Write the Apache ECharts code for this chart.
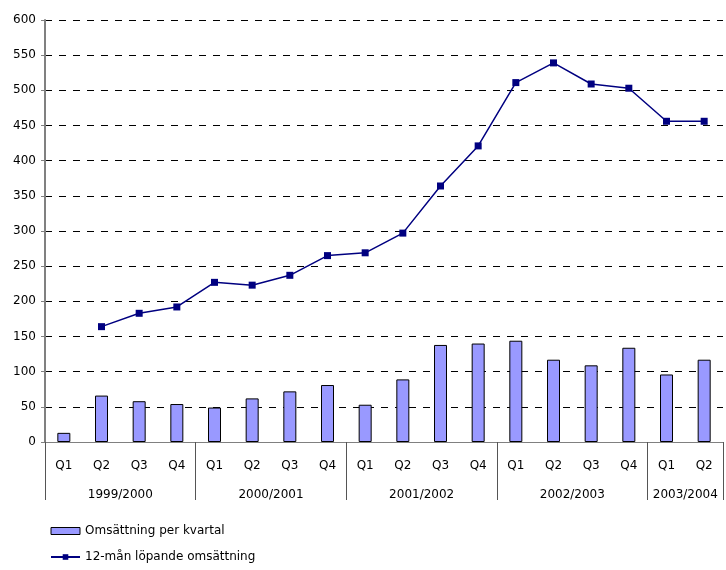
<!DOCTYPE html>
<html>
<head>
<meta charset="utf-8">
<script src="https://cdn.jsdelivr.net/npm/echarts@6/dist/echarts.min.js"></script>
<style>
  html, body { margin: 0; padding: 0; background: #ffffff; }
  #main { width: 726px; height: 570px; }
</style>
</head>
<body>
<div id="main"></div>
<script>
// kvartal och räkenskapsår
var quarters = ['Q1', 'Q2', 'Q3', 'Q4', 'Q1', 'Q2', 'Q3', 'Q4', 'Q1', 'Q2', 'Q3', 'Q4', 'Q1', 'Q2', 'Q3', 'Q4', 'Q1', 'Q2']
var years = ['1999/2000', '2000/2001', '2001/2002', '2002/2003', '2003/2004']
var yearSizes = [4, 4, 4, 4, 2]
// omsättning per kvartal
var perQuarter = [13, 66, 58, 54, 49, 62, 72, 81, 53, 89, 138, 140, 144, 117, 109, 134, 96, 117]
// 12-mån löpande omsättning
var rolling12 = [null, 164, 183, 192, 227, 223, 237, 265, 269, 297, 364, 421, 511, 539, 509, 503, 456, 456]
var yTicks = [0, 50, 100, 150, 200, 250, 300, 350, 400, 450, 500, 550, 600]

// gruppgränser och mitten för årsetiketter
var groupStarts = {}
var yearAt = {}
var pos = 0
for (var i = 0; i < years.length; i++) {
  groupStarts[pos] = true
  yearAt[pos + yearSizes[i] / 2] = years[i]
  pos += yearSizes[i]
}

var font = 'DejaVu Sans, Liberation Sans, sans-serif'
var chart = echarts.init(document.getElementById('main'))
chart.setOption({
  animation: false,
  grid: { left: 45, top: 20, width: 682, height: 422 },
  legend: {
    orient: 'vertical',
    left: 50,
    top: 525,
    padding: 0,
    itemWidth: 29,
    itemHeight: 7,
    itemGap: 14,
    textStyle: { fontFamily: font, fontSize: 12, color: '#000' },
    data: [
      { name: 'Omsättning per kvartal', icon: 'rect', itemStyle: { borderWidth: 1, borderColor: '#000' } },
      { name: '12-mån löpande omsättning' }
    ]
  },
  xAxis: [
    {
      type: 'category',
      data: quarters,
      boundaryGap: true,
      axisLine: { lineStyle: { color: '#808080', width: 1 } },
      axisTick: {
        show: true,
        length: 58,
        interval: function(index) { return !!groupStarts[index] },
        lineStyle: { color: '#555', width: 1 }
      },
      axisLabel: { interval: 0, margin: 18, fontFamily: font, fontSize: 12, color: '#000' },
      splitLine: { show: false }
    },
    {
      type: 'value',
      min: 0,
      max: 18,
      interval: 1,
      position: 'bottom',
      axisLine: { show: false },
      axisTick: { show: false },
      splitLine: { show: false },
      axisLabel: {
        margin: 47,
        fontFamily: font,
        fontSize: 12,
        color: '#000',
        showMinLabel: true,
        showMaxLabel: true,
        formatter: function(v) { return yearAt[v] || '' }
      }
    }
  ],
  yAxis: {
    type: 'value',
    min: 0,
    max: 600,
    interval: 50,
    axisLine: { show: true, lineStyle: { color: '#808080', width: 2 } },
    axisTick: { show: true, length: 4, lineStyle: { color: '#808080' } },
    axisLabel: {
      margin: 9,
      fontFamily: font,
      fontSize: 12,
      color: '#000',
      formatter: function(v) { return yTicks.indexOf(v) >= 0 ? String(v) : '' }
    },
    splitLine: { show: true, lineStyle: { color: '#000', type: [7, 7], width: 1 } }
  },
  series: [
    {
      name: 'Omsättning per kvartal',
      type: 'bar',
      data: perQuarter,
      barWidth: 13,
      itemStyle: { color: '#9999ff', borderColor: '#000', borderWidth: 1 }
    },
    {
      name: '12-mån löpande omsättning',
      type: 'line',
      data: rolling12,
      symbol: 'rect',
      symbolSize: 7,
      lineStyle: { color: '#000080', width: 1.5 },
      itemStyle: { color: '#000080' }
    }
  ]
})
</script>
</body>
</html>
